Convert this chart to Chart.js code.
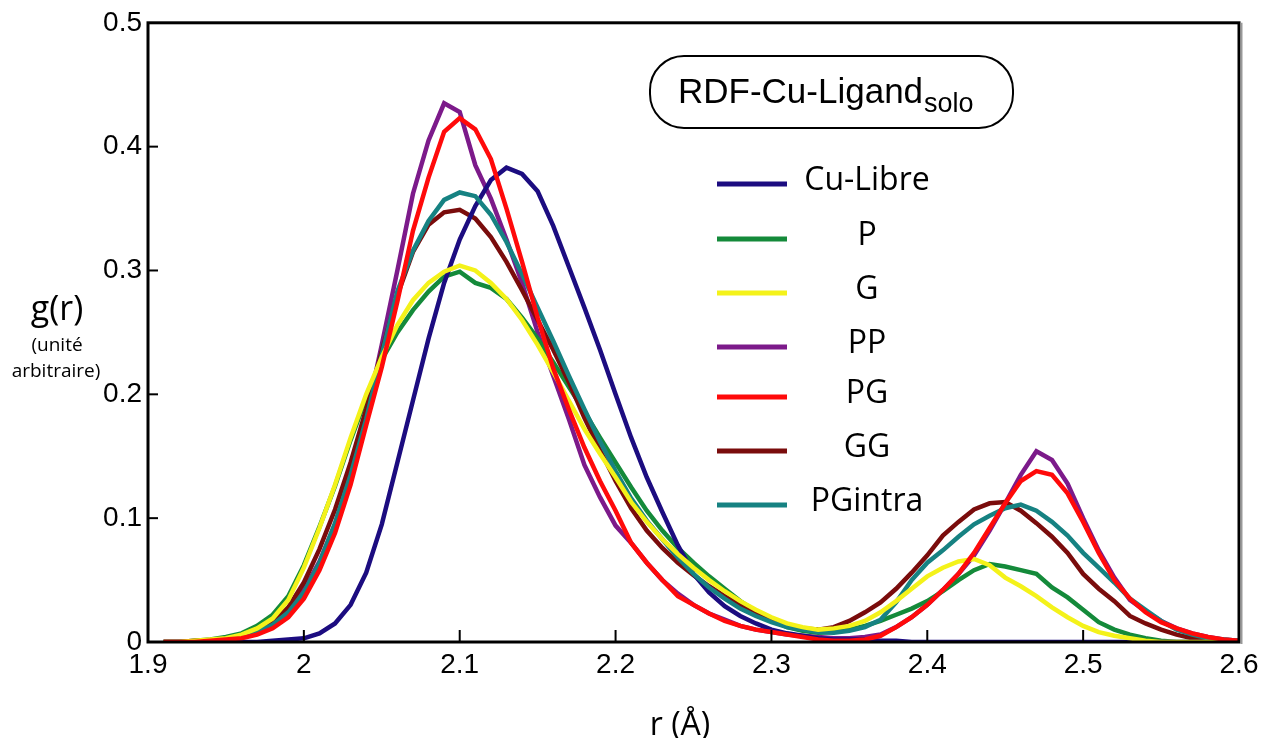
<!DOCTYPE html>
<html>
<head>
<meta charset="utf-8">
<script src="https://cdn.jsdelivr.net/npm/chart.js@4.4.1/dist/chart.umd.min.js"></script>
<style>
  html, body { margin: 0; padding: 0; background: #fff; }
  #wrap { width: 1269px; height: 738px; position: relative; }
</style>
</head>
<body>
<div id="wrap"><canvas id="rdfChart"></canvas></div>
<script>
// r (Å), pas de 0.01
const rValues = [
  1.91, 1.92, 1.93, 1.94, 1.95, 1.96, 1.97, 1.98, 1.99, 2.00,
  2.01, 2.02, 2.03, 2.04, 2.05, 2.06, 2.07, 2.08, 2.09, 2.10,
  2.11, 2.12, 2.13, 2.14, 2.15, 2.16, 2.17, 2.18, 2.19, 2.20,
  2.21, 2.22, 2.23, 2.24, 2.25, 2.26, 2.27, 2.28, 2.29, 2.30,
  2.31, 2.32, 2.33, 2.34, 2.35, 2.36, 2.37, 2.38, 2.39, 2.40,
  2.41, 2.42, 2.43, 2.44, 2.45, 2.46, 2.47, 2.48, 2.49, 2.50,
  2.51, 2.52, 2.53, 2.54, 2.55, 2.56, 2.57, 2.58, 2.59, 2.60
];

const cuLibre = [
  0, 0, 0, 0, 0, 0, 0, 0.001, 0.002, 0.003,
  0.007, 0.015, 0.030, 0.056, 0.095, 0.145, 0.195, 0.245, 0.290, 0.325,
  0.352, 0.373, 0.383, 0.378, 0.364, 0.336, 0.303, 0.270, 0.236, 0.200,
  0.165, 0.133, 0.105, 0.078, 0.055, 0.040, 0.029, 0.021, 0.015, 0.010,
  0.007, 0.005, 0.003, 0.002, 0.002, 0.002, 0.001, 0.001, 0, 0,
  0, 0, 0, 0, 0, 0, 0, 0, 0, 0,
  0, 0, 0, 0, 0, 0, 0, 0, 0, 0
];

const gP = [
  0, 0, 0.001, 0.002, 0.004, 0.007, 0.013, 0.022, 0.037, 0.062,
  0.093, 0.126, 0.163, 0.197, 0.228, 0.250, 0.268, 0.283, 0.295, 0.299,
  0.290, 0.286, 0.277, 0.262, 0.245, 0.226, 0.206, 0.186, 0.165, 0.145,
  0.125, 0.106, 0.090, 0.076, 0.064, 0.053, 0.043, 0.033, 0.025, 0.018,
  0.012, 0.009, 0.0075, 0.008, 0.010, 0.013, 0.017, 0.022, 0.027, 0.033,
  0.041, 0.050, 0.058, 0.063, 0.061, 0.058, 0.055, 0.044, 0.036, 0.026,
  0.016, 0.010, 0.006, 0.003, 0.001, 0, 0, 0, 0, 0
];

const gG = [
  0, 0, 0.001, 0.002, 0.003, 0.006, 0.011, 0.019, 0.034, 0.060,
  0.092, 0.127, 0.165, 0.200, 0.230, 0.256, 0.276, 0.290, 0.299, 0.304,
  0.300, 0.290, 0.277, 0.260, 0.240, 0.218, 0.195, 0.172, 0.152, 0.133,
  0.113, 0.097, 0.083, 0.071, 0.060, 0.050, 0.041, 0.033, 0.026, 0.020,
  0.015, 0.012, 0.010, 0.011, 0.013, 0.017, 0.024, 0.033, 0.043, 0.053,
  0.060, 0.065, 0.067, 0.062, 0.052, 0.045, 0.037, 0.028, 0.020, 0.013,
  0.008, 0.005, 0.003, 0.001, 0, 0, 0, 0, 0, 0
];

const gPP = [
  0, 0, 0, 0.001, 0.002, 0.004, 0.008, 0.014, 0.025, 0.042,
  0.065, 0.095, 0.135, 0.182, 0.240, 0.300, 0.362, 0.405, 0.435, 0.428,
  0.385, 0.358, 0.325, 0.290, 0.250, 0.215, 0.180, 0.143, 0.117, 0.094,
  0.080, 0.064, 0.050, 0.039, 0.030, 0.023, 0.018, 0.013, 0.010, 0.008,
  0.006, 0.005, 0.004, 0.003, 0.003, 0.004, 0.006, 0.012, 0.020, 0.030,
  0.042, 0.055, 0.070, 0.090, 0.112, 0.135, 0.154, 0.147, 0.128, 0.100,
  0.074, 0.052, 0.034, 0.025, 0.017, 0.011, 0.007, 0.004, 0.002, 0.001
];

const gPG = [
  0, 0, 0, 0.001, 0.002, 0.003, 0.006, 0.011, 0.020, 0.035,
  0.058, 0.088, 0.127, 0.175, 0.222, 0.275, 0.332, 0.375, 0.412, 0.423,
  0.414, 0.390, 0.350, 0.307, 0.262, 0.221, 0.188, 0.157, 0.130, 0.106,
  0.080, 0.064, 0.050, 0.037, 0.030, 0.023, 0.017, 0.013, 0.010, 0.008,
  0.006, 0.004, 0.002, 0.001, 0.001, 0.002, 0.005, 0.012, 0.020, 0.030,
  0.042, 0.055, 0.072, 0.092, 0.112, 0.130, 0.138, 0.135, 0.120, 0.097,
  0.072, 0.050, 0.035, 0.024, 0.016, 0.011, 0.007, 0.004, 0.002, 0.001
];

const gGG = [
  0, 0, 0.001, 0.001, 0.002, 0.005, 0.009, 0.016, 0.028, 0.048,
  0.075, 0.107, 0.145, 0.188, 0.235, 0.280, 0.315, 0.337, 0.347, 0.349,
  0.342, 0.327, 0.307, 0.284, 0.260, 0.236, 0.210, 0.181, 0.155, 0.130,
  0.108, 0.090, 0.076, 0.064, 0.054, 0.045, 0.037, 0.030, 0.024, 0.018,
  0.014, 0.011, 0.010, 0.012, 0.017, 0.024, 0.032, 0.043, 0.056, 0.070,
  0.086, 0.097, 0.107, 0.112, 0.113, 0.106, 0.096, 0.085, 0.072, 0.055,
  0.043, 0.033, 0.021, 0.015, 0.010, 0.006, 0.003, 0.002, 0.001, 0
];

const gPGintra = [
  0, 0, 0, 0.001, 0.002, 0.004, 0.008, 0.014, 0.024, 0.040,
  0.064, 0.096, 0.135, 0.180, 0.232, 0.283, 0.316, 0.340, 0.357, 0.363,
  0.360, 0.345, 0.323, 0.297, 0.270, 0.243, 0.215, 0.188, 0.162, 0.138,
  0.116, 0.098, 0.083, 0.068, 0.055, 0.044, 0.035, 0.027, 0.021, 0.016,
  0.012, 0.010, 0.008, 0.0075, 0.009, 0.012, 0.018, 0.032, 0.050, 0.064,
  0.074, 0.085, 0.095, 0.102, 0.108, 0.111, 0.106, 0.097, 0.086, 0.072,
  0.060, 0.048, 0.035, 0.026, 0.017, 0.010, 0.006, 0.003, 0.002, 0.001
];

const seriesNames = ['Cu-Libre', 'P', 'G', 'PP', 'PG', 'GG', 'PGintra'];
const seriesValues = [cuLibre, gP, gG, gPP, gPG, gGG, gPGintra];
const seriesColors = ['#1c0c80', '#148a3a', '#f4f21a', '#7c1a8a', '#ff0a0a', '#7a0c0c', '#168282'];
const drawOrder = [3, 5, 1, 6, 0, 4, 2]; // plus petit = dessus

const xTickLabels = [1.9, 2, 2.1, 2.2, 2.3, 2.4, 2.5, 2.6];
const yTickLabels = [0, 0.1, 0.2, 0.3, 0.4, 0.5];

const datasets = seriesNames.map((name, k) => ({
  label: name,
  data: rValues.map((r, i) => ({ x: r, y: seriesValues[k][i] })),
  borderColor: seriesColors[k],
  backgroundColor: seriesColors[k],
  borderWidth: 4.5,
  pointRadius: 0,
  tension: 0,
  fill: false,
  order: drawOrder[k]
}));

// cadre, graduations internes, légende, titres
const decorPlugin = {
  id: 'decor',
  afterDraw(chart) {
    const { ctx, chartArea: a, scales: { x, y } } = chart;
    ctx.save();

    ctx.strokeStyle = '#000';
    ctx.lineWidth = 3;
    ctx.strokeRect(a.left, a.top, a.right - a.left, a.bottom - a.top);
    ctx.strokeStyle = '#999';
    ctx.lineWidth = 2;
    ctx.beginPath();
    ctx.moveTo(a.right + 2.5, a.top);
    ctx.lineTo(a.right + 2.5, a.bottom + 2);
    ctx.stroke();

    ctx.strokeStyle = '#000';
    ctx.lineWidth = 2;
    xTickLabels.slice(1, -1).forEach(v => {
      const px = x.getPixelForValue(v);
      ctx.beginPath();
      ctx.moveTo(px, a.bottom);
      ctx.lineTo(px, a.bottom - 12);
      ctx.stroke();
    });
    yTickLabels.slice(1, -1).forEach(v => {
      const py = y.getPixelForValue(v);
      ctx.beginPath();
      ctx.moveTo(a.left, py);
      ctx.lineTo(a.left + 10, py);
      ctx.stroke();
    });

    // encadré titre
    ctx.lineWidth = 2;
    ctx.beginPath();
    ctx.roundRect(650, 56, 363, 72, 34);
    ctx.stroke();
    ctx.fillStyle = '#000';
    ctx.textBaseline = 'alphabetic';
    ctx.textAlign = 'left';
    ctx.font = '35px "Liberation Sans", Arial, sans-serif';
    const main = 'RDF-Cu-Ligand';
    ctx.fillText(main, 678, 103);
    const w = ctx.measureText(main).width;
    ctx.font = '27px "Liberation Sans", Arial, sans-serif';
    ctx.fillText('solo', 678 + w + 1, 112);

    // légende
    const rows = [184, 239, 293, 347, 397, 451, 505];
    seriesNames.forEach((name, k) => {
      ctx.strokeStyle = seriesColors[k];
      ctx.lineWidth = 5;
      ctx.beginPath();
      ctx.moveTo(717, rows[k]);
      ctx.lineTo(787, rows[k]);
      ctx.stroke();
      ctx.fillStyle = '#000';
      ctx.font = '32px "Open Sans", sans-serif';
      ctx.textAlign = 'center';
      ctx.textBaseline = 'middle';
      ctx.fillText(name, 867, rows[k] - 3);
    });

    // titres des axes
    ctx.textAlign = 'center';
    ctx.textBaseline = 'alphabetic';
    ctx.font = '34px "Open Sans", sans-serif';
    ctx.fillText('g(r)', 57, 320);
    ctx.font = '19px "Open Sans", sans-serif';
    ctx.fillText('(unité', 57, 351);
    ctx.fillText('arbitraire)', 56, 377);
    ctx.font = '32px "Open Sans", sans-serif';
    ctx.fillText('r (Å)', 680, 735);

    ctx.restore();
  }
};

const fmt = v => String(Number(v.toFixed(1)));

new Chart(document.getElementById('rdfChart'), {
  type: 'line',
  data: { datasets },
  options: {
    responsive: true,
    maintainAspectRatio: false,
    animation: false,
    layout: { padding: { top: 22, right: 30, left: 0, bottom: 0 } },
    scales: {
      x: {
        type: 'linear',
        min: 1.9,
        max: 2.6,
        afterFit: s => { s.height = 96; },
        afterBuildTicks: s => { s.ticks = xTickLabels.map(v => ({ value: v })); },
        grid: { display: false, drawTicks: false },
        border: { display: false },
        ticks: {
          callback: v => fmt(v),
          color: '#000',
          font: { family: '"Liberation Sans", Arial, sans-serif', size: 28 },
          padding: 6,
          maxRotation: 0,
          autoSkip: false
        }
      },
      y: {
        min: 0,
        max: 0.5,
        afterFit: s => { s.width = 148; },
        afterBuildTicks: s => { s.ticks = yTickLabels.map(v => ({ value: v })); },
        grid: { display: false, drawTicks: false },
        border: { display: false },
        ticks: {
          callback: v => fmt(v),
          color: '#000',
          font: { family: '"Liberation Sans", Arial, sans-serif', size: 28 },
          padding: 6
        }
      }
    },
    plugins: {
      legend: { display: false },
      tooltip: { enabled: false }
    }
  },
  plugins: [decorPlugin]
});
</script>
</body>
</html>
